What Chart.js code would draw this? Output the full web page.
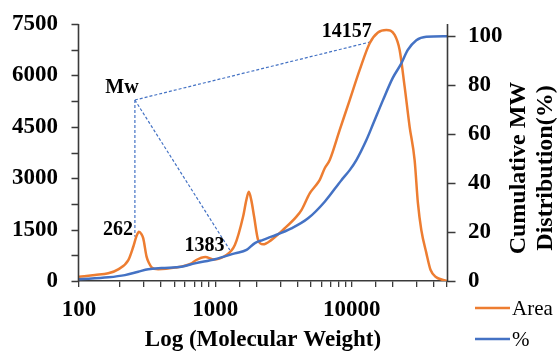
<!DOCTYPE html>
<html><head><meta charset="utf-8">
<script src="https://cdn.jsdelivr.net/npm/chart.js@4.4.0/dist/chart.umd.min.js"></script>
<style>html,body{margin:0;padding:0;background:#fff;overflow:hidden;}#wrap{width:557px;height:351px;}</style>
</head><body><div id="wrap"><canvas id="c" width="557" height="351"></canvas></div>
<script>
// ---- data ----
const areaMW = [100,131,164,194,230,250,264,275,287,296,313,326,341,381,505,669,719,845,964,1174,1390,1598,1687,1760,1835,1924,2059,2240,2580,3230,3935,4280,4923,5357,5831,6341,6901,8169,9668,11446,13550,15580,17960,20650,22470,24450,26600,28940,30600,32400,35260,37910,41740,45630,50000];
const areaValues = [125,175,225,340,610,1000,1310,1440,1370,1245,710,525,400,340,390,515,605,700,630,730,1050,1880,2360,2606,2360,1880,1200,1070,1200,1540,1880,2070,2560,2750,2950,3290,3530,4410,5280,6160,6940,7250,7325,7180,6740,5670,4500,3530,2270,1490,820,320,110,45,0];
const pctMW = [100,164,217,272,322,404,565,708,992,1390,1693,1950,2240,2580,3615,4786,6341,8403,9668,10820,12815,14320,16960,19970,23120,25720,29790,35260,50000];
const pctValues = [0.7,1.5,2.4,3.8,4.8,5.3,5.8,7.2,8.9,11.3,12.7,15.5,16.8,18.1,21.5,25.6,32.4,41.2,45.3,49.4,57.6,64,73.9,82.9,88.9,94.3,98.4,99.8,100];
const seriesNames = ['Area', '%'];
const xTickLabels = [100, 1000, 10000];
const leftTickLabels = [0, 1500, 3000, 4500, 6000, 7500];
const rightTickLabels = [0, 20, 40, 60, 80, 100];
const xTitle = 'Log (Molecular Weight)';
const rightTitle = ['Cumulative MW', 'Distribution(%)'];
const mwText = 'Mw';
const mwVertex = [257, 5282];
const mwTargets = [[257, 1293], [1277, 905], [13930, 6983]];
const mwLabelPos = [206.5, 5632];
const peakLabels = ['262', '1383', '14157'];
const peakLabelPos = [[193, 1488], [831, 1036], [9193, 7281]];

// ---- styles ----
const SERIF = '"Liberation Serif", "Times New Roman", serif';
const AXIS = '#3a3a3a';
const ORANGE = '#ED7D31';
const BLUE = '#4472C4';
const near = (v, arr) => arr.some(a => Math.abs(a - v) < 1e-6 * Math.max(1, a));

const deco = {
  id: 'deco',
  beforeDatasetsDraw(chart) {
    const {ctx, scales: {x, y}} = chart;
    ctx.save();
    ctx.setLineDash([3, 2]);
    ctx.strokeStyle = BLUE;
    ctx.lineWidth = 1.2;
    const vx = x.getPixelForValue(mwVertex[0]), vy = y.getPixelForValue(mwVertex[1]);
    mwTargets.forEach(t => {
      ctx.beginPath();
      ctx.moveTo(vx, vy);
      ctx.lineTo(x.getPixelForValue(t[0]), y.getPixelForValue(t[1]));
      ctx.stroke();
    });
    ctx.restore();
  },
  afterDraw(chart) {
    const {ctx, scales: {x, y, y1}} = chart;
    ctx.save();
    // vertical axis lines and their tick marks
    const xl = Math.round(x.getPixelForValue(100)) - 0.5;
    const xr = Math.round(x.getPixelForValue(50000)) + 0.5;
    const yt = Math.round(y.getPixelForValue(7500));
    const yb = Math.round(y.getPixelForValue(0)) + 1;
    ctx.setLineDash([]);
    ctx.strokeStyle = AXIS;
    ctx.lineWidth = 1.6;
    ctx.beginPath();
    ctx.moveTo(xl, yt); ctx.lineTo(xl, yb);
    ctx.moveTo(xr, yt); ctx.lineTo(xr, yb);
    ctx.stroke();
    ctx.lineWidth = 1.4;
    ctx.beginPath();
    for (let v = 0; v <= 7500; v += 750) {
      const py = Math.round(y.getPixelForValue(v)) + 0.5;
      ctx.moveTo(xl - 7, py); ctx.lineTo(xl, py);
    }
    rightTickLabels.forEach(v => {
      const py = Math.round(y1.getPixelForValue(v)) + 0.5;
      ctx.moveTo(xr, py); ctx.lineTo(xr + 8, py);
    });
    ctx.stroke();

    ctx.fillStyle = '#000';
    ctx.textAlign = 'center';
    ctx.textBaseline = 'middle';
    ctx.font = 'bold 20px ' + SERIF;
    ctx.fillText(mwText, x.getPixelForValue(mwLabelPos[0]), y.getPixelForValue(mwLabelPos[1]));
    peakLabels.forEach((t, i) => {
      ctx.fillText(t, x.getPixelForValue(peakLabelPos[i][0]), y.getPixelForValue(peakLabelPos[i][1]));
    });
    // x title
    ctx.font = 'bold 23px ' + SERIF;
    ctx.textBaseline = 'alphabetic';
    ctx.fillText(xTitle, (x.getPixelForValue(100) + x.getPixelForValue(50000)) / 2, 346);
    // right title (rotated)
    ctx.font = 'bold 24px ' + SERIF;
    const cy = 168;
    [525, 552].forEach((bx, i) => {
      ctx.save();
      ctx.translate(bx, cy);
      ctx.rotate(-Math.PI / 2);
      ctx.textAlign = 'center';
      ctx.textBaseline = 'alphabetic';
      ctx.fillText(rightTitle[i], 0, 0);
      ctx.restore();
    });
    // legend
    ctx.font = '21px ' + SERIF;
    ctx.textAlign = 'left';
    ctx.textBaseline = 'middle';
    const items = [[ORANGE, 308], [BLUE, 339]];
    items.forEach((it, i) => {
      ctx.strokeStyle = it[0];
      ctx.lineWidth = 2.5;
      ctx.beginPath();
      ctx.moveTo(475, it[1]);
      ctx.lineTo(510, it[1]);
      ctx.stroke();
      ctx.fillText(seriesNames[i], 512, it[1] + 1);
    });
    ctx.restore();
  }
};

const tickFont = {family: SERIF, size: 23, weight: 'bold'};
const hiddenTicks = {display: true, drawOnChartArea: false, drawTicks: true, tickLength: 11, color: 'rgba(0,0,0,0)'};

new Chart(document.getElementById('c').getContext('2d'), {
  type: 'line',
  data: {
    datasets: [
      {label: seriesNames[0], data: areaMW.map((v, i) => ({x: v, y: areaValues[i]})), yAxisID: 'y',
       borderColor: ORANGE, borderWidth: 2.5, pointRadius: 0, cubicInterpolationMode: 'monotone', fill: false, order: 1},
      {label: seriesNames[1], data: pctMW.map((v, i) => ({x: v, y: pctValues[i]})), yAxisID: 'y1',
       borderColor: BLUE, borderWidth: 2.5, pointRadius: 0, cubicInterpolationMode: 'monotone', fill: false, order: 0}
    ]
  },
  options: {
    responsive: false, animation: false, devicePixelRatio: 1,
    layout: {padding: {top: 24, left: 0, right: 0, bottom: 0}},
    plugins: {legend: {display: false}, tooltip: {enabled: false}},
    scales: {
      x: {
        type: 'logarithmic', min: 100, max: 50000, position: 'bottom',
        grid: {drawOnChartArea: false, drawTicks: true, tickLength: 6, color: AXIS, lineWidth: 1.3},
        border: {display: true, color: AXIS, width: 1.5},
        ticks: {autoSkip: false, maxRotation: 0, minRotation: 0, padding: 9, color: '#000', font: tickFont,
                callback: v => near(v, xTickLabels) ? String(Math.round(v)) : ''},
        afterFit: s => { s.height = 70; }
      },
      y: {
        position: 'left', min: 0, max: 7500,
        grid: hiddenTicks,
        border: {display: false},
        ticks: {stepSize: 750, padding: 10, color: '#000', font: tickFont, autoSkip: false,
                callback: v => near(v, leftTickLabels) ? String(v) : ''},
        afterFit: s => { s.width = 79; }
      },
      y1: {
        position: 'right', min: 0, max: 105,
        grid: hiddenTicks,
        border: {display: false},
        ticks: {padding: 10, color: '#000', font: tickFont, autoSkip: false,
                callback: v => String(v)},
        afterBuildTicks: s => { s.ticks = rightTickLabels.map(v => ({value: v})); },
        afterFit: s => { s.width = 110; }
      }
    }
  },
  plugins: [deco]
});
</script>
</body></html>
